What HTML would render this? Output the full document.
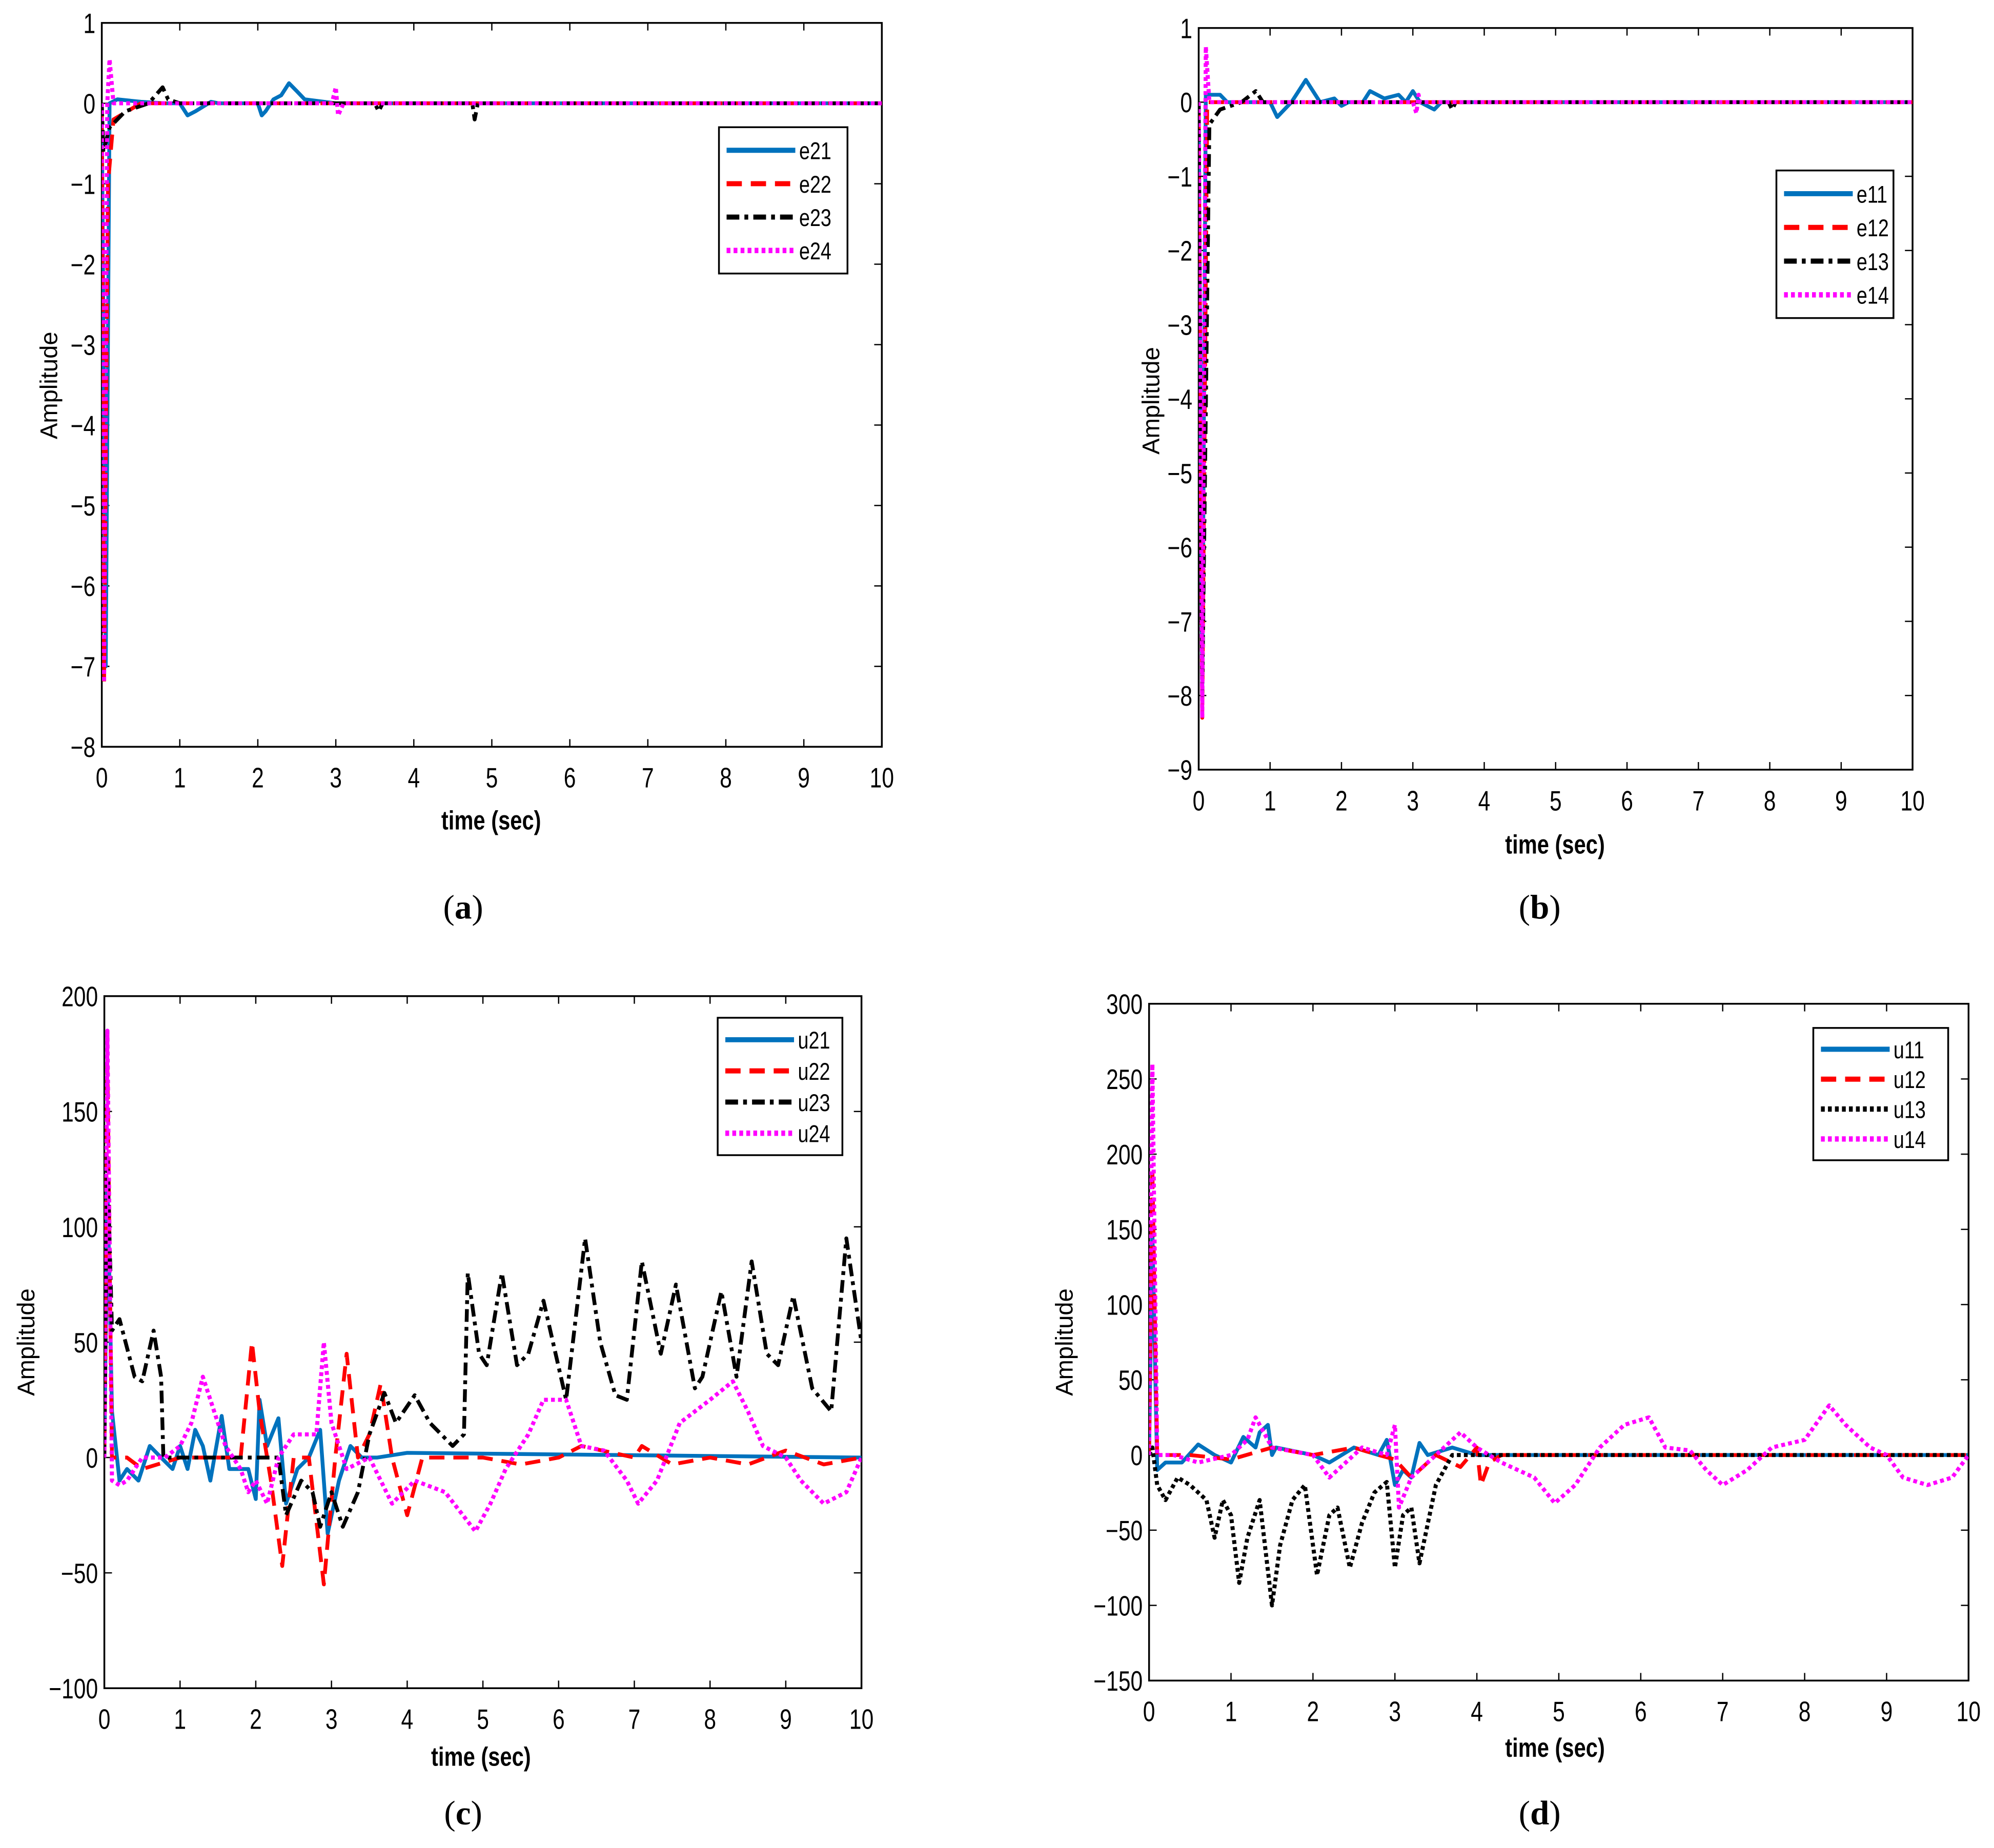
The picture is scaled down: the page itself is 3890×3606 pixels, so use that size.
<!DOCTYPE html>
<html><head><meta charset="utf-8"><style>
html,body{margin:0;padding:0;background:#fff}
svg{display:block}
text{font-family:"Liberation Sans",sans-serif;fill:#000}
text.cap{font-family:"Liberation Serif",serif}
</style></head><body>
<svg id="root" width="3890" height="3606" viewBox="0 0 1567 1452.6" preserveAspectRatio="none" xmlns="http://www.w3.org/2000/svg"></svg>
<script>
// ---- data (time, value) per series ----
const aE21t=[0,0.03,0.05,0.1,0.2,0.5,0.8,1,1.1,1.2,1.4,1.5,2,2.05,2.1,2.2,2.3,2.4,2.5,2.6,3,10];
const aE21v=[0,-4,-7,0,0.05,0.02,0,0,-0.15,-0.1,0.02,0,0,-0.15,-0.1,0.05,0.1,0.25,0.15,0.05,0,0];
const aE22t=[0,0.03,0.08,0.15,0.5,10];
const aE22v=[0,-7.2,-1,-0.2,0,0];
const aE23t=[0,0.02,0.1,0.3,0.6,0.78,0.85,1,3.5,3.55,3.6,4.75,4.78,4.82,10];
const aE23v=[0,-0.6,-0.3,-0.1,0,0.2,0.05,0,0,-0.1,0,0,-0.2,0,0];
const aE24t=[0,0.03,0.07,0.1,0.15,2.95,3,3.03,3.1,10];
const aE24v=[0,-7.2,0,0.55,0,0,0.2,-0.15,0,0];

const bE11t=[0,0.05,0.1,0.3,0.4,1,1.1,1.3,1.5,1.7,1.9,2,2.1,2.3,2.4,2.6,2.8,2.9,3,3.1,3.3,3.4,10];
const bE11v=[0,-8,0.1,0.1,0,0,-0.2,0,0.3,0,0.05,-0.05,0,0,0.15,0.05,0.1,0,0.15,0,-0.1,0,0];
const bE12t=[0,0.05,0.12,10];
const bE12v=[0,-8.3,0,0];
const bE13t=[0,0.05,0.15,0.3,0.6,0.8,0.9,3.5,3.55,3.6,10];
const bE13v=[0,-8,-0.3,-0.1,0,0.15,0,0,-0.1,0,0];
const bE14t=[0,0.05,0.1,0.15,3,3.05,3.08,3.1,10];
const bE14v=[0,-8.3,0.75,0,0,-0.15,0.1,0,0];

const cU21t=[0,0.04,0.1,0.2,0.3,0.45,0.6,0.75,0.9,1,1.1,1.2,1.3,1.4,1.55,1.65,1.9,2,2.05,2.15,2.3,2.4,2.55,2.7,2.85,2.95,3.1,3.25,3.4,3.6,4,10];
const cU21v=[0,120,20,-10,-5,-10,5,0,-5,5,-5,12,5,-10,18,-5,-5,-18,25,5,17,-20,-5,0,12,-33,-10,5,0,0,2,0];
const cU22t=[0,0.04,0.1,0.3,0.5,1,1.5,1.8,1.95,2.05,2.2,2.35,2.5,2.7,2.9,3.05,3.2,3.35,3.5,3.65,3.8,4,4.2,5,5.5,6,6.3,7,7.1,7.5,8,8.5,9,9.5,10];
const cU22v=[0,170,0,0,-5,0,0,0,50,20,-10,-47,0,0,-55,0,45,0,10,32,0,-25,0,0,-3,0,5,0,5,-3,0,-3,3,-3,0];
const cU23t=[0,0.04,0.1,0.2,0.4,0.5,0.65,0.75,0.78,1,2.3,2.4,2.6,2.75,2.85,3,3.15,3.35,3.5,3.7,3.85,4.1,4.3,4.6,4.75,4.8,4.95,5.05,5.25,5.45,5.6,5.8,6.1,6.35,6.55,6.75,6.9,7.1,7.35,7.55,7.8,7.9,8.15,8.35,8.55,8.75,8.9,9.1,9.35,9.6,9.8,10];
const cU23v=[0,130,55,60,35,33,55,35,0,0,0,-25,-10,-15,-30,-15,-30,-15,10,28,15,27,15,5,10,80,45,40,80,40,45,68,25,95,50,27,25,85,45,75,30,35,72,35,85,45,40,70,30,20,95,50];
const cU24t=[0,0.04,0.1,0.2,0.3,0.5,0.8,1,1.15,1.3,1.45,1.6,1.8,1.9,2,2.15,2.3,2.5,2.8,2.9,3,3.2,3.5,3.8,4.1,4.5,4.9,5.1,5.3,5.6,5.8,6.1,6.3,6.6,6.9,7.05,7.3,7.6,8,8.3,8.5,8.7,9,9.2,9.5,9.8,10];
const cU24v=[0,185,-10,-12,-10,0,0,5,15,35,20,5,-5,-15,-10,-20,0,10,10,50,15,-5,0,-20,-10,-15,-32,-20,-5,10,25,25,5,3,-10,-20,-10,15,25,33,20,5,0,-10,-20,-15,0];

const dU11t=[0,0.04,0.1,0.2,0.4,0.6,0.8,1,1.15,1.3,1.35,1.45,1.5,1.55,2,2.2,2.5,2.8,2.9,3,3.1,3.2,3.3,3.4,3.7,4,10];
const dU11v=[0,150,-10,-5,-5,7,0,-5,12,5,15,20,0,5,0,-5,5,0,10,-20,-10,-15,8,0,5,0,0];
const dU12t=[0,0.04,0.1,0.5,1,1.5,2,2.5,2.8,3,3.2,3.5,3.8,4,4.05,4.15,4.3,10];
const dU12v=[0,190,0,0,-3,5,0,5,0,-3,-15,0,-8,5,-20,-5,0,0];
const dU13t=[0,0.04,0.1,0.2,0.35,0.5,0.7,0.8,0.9,1,1.1,1.2,1.35,1.5,1.6,1.75,1.9,2.05,2.2,2.3,2.45,2.6,2.75,2.9,3,3.1,3.2,3.3,3.5,3.7,4,10];
const dU13v=[0,5,-20,-30,-15,-20,-30,-55,-30,-40,-85,-55,-30,-100,-60,-30,-20,-80,-40,-35,-75,-45,-25,-18,-75,-40,-35,-72,-20,0,0,0];
const dU14t=[0,0.04,0.1,0.3,0.6,1,1.2,1.3,1.5,2,2.2,2.6,2.9,3,3.05,3.2,3.5,3.8,4,4.3,4.7,4.95,5.2,5.5,5.8,6.1,6.3,6.6,6.8,7,7.3,7.6,8,8.3,8.5,8.8,9,9.2,9.5,9.8,10];
const dU14v=[0,260,0,0,-5,0,10,25,5,0,-15,5,0,20,-35,-15,0,15,5,-5,-15,-32,-20,5,20,25,5,3,-10,-20,-10,5,10,33,20,5,0,-15,-20,-15,0];

const xTicks=[0,1,2,3,4,5,6,7,8,9,10];
const aYTicks=[1,0,-1,-2,-3,-4,-5,-6,-7,-8];
const bYTicks=[1,0,-1,-2,-3,-4,-5,-6,-7,-8,-9];
const cYTicks=[200,150,100,50,0,-50,-100];
const dYTicks=[300,250,200,150,100,50,0,-50,-100,-150];

const NS="http://www.w3.org/2000/svg";
const root=document.getElementById('root');
function mk(tag,attrs,parent){const e=document.createElementNS(NS,tag);for(const k in attrs)e.setAttribute(k,attrs[k]);(parent||root).appendChild(e);return e;}
const STY={
 blue:{stroke:'#0072BD',dash:'',w:3},
 red:{stroke:'#FF0000',dash:'12,7',w:3},
 black:{stroke:'#000',dash:'10,4,3,4',w:3},
 blackdot:{stroke:'#000',dash:'3,2.5',w:3.2},
 mag:{stroke:'#FF00FF',dash:'3,2.5',w:3.2}
};
function panel(p){
 const g=mk('g',{});
 
 
 const X=t=>p.x0+(t-0)/10*(p.x1-p.x0);
 const Y=v=>p.yTop+(p.ymax-v)/(p.ymax-p.ymin)*(p.yBot-p.yTop);
 const box=mk('rect',{x:p.x0,y:p.yTop,width:p.x1-p.x0,height:p.yBot-p.yTop,fill:'none',stroke:'#000','stroke-width':1.4},g);
 
 
 xTicks.forEach(t=>{
  const x=X(t);
  mk('line',{x1:x,x2:x,y1:p.yBot,y2:p.yBot-6,stroke:'#000','stroke-width':1},g);
  mk('line',{x1:x,x2:x,y1:p.yTop,y2:p.yTop+6,stroke:'#000','stroke-width':1},g);
  const tx=mk('text',{x:x,y:p.yBot+32,'text-anchor':'middle','font-size':22,transform:`translate(${x},0) scale(0.78,1) translate(${-x},0)`},g);
  tx.textContent=t;
  
  
 });
 p.yTicks.forEach(v=>{
  const y=Y(v);
  mk('line',{x1:p.x0,x2:p.x0+6,y1:y,y2:y,stroke:'#000','stroke-width':1},g);
  mk('line',{x1:p.x1,x2:p.x1-6,y1:y,y2:y,stroke:'#000','stroke-width':1},g);
  const lx=p.x0-5;
  const ty=mk('text',{x:lx,y:y+8,'text-anchor':'end','font-size':22,transform:`translate(${lx},0) scale(0.78,1) translate(${-lx},0)`},g);
  ty.textContent=v<0?'\u2212'+(-v):v;
  
  
 });
 const xl=mk('text',{x:p.xlx,y:p.xly,'text-anchor':'middle','font-size':21,'font-weight':'bold',transform:`translate(${p.xlx},0) scale(0.8,1) translate(${-p.xlx},0)`},g);
 xl.textContent='time (sec)';
 
 
 const yl=mk('text',{x:0,y:0,'text-anchor':'middle','font-size':19,transform:`translate(${p.ylx},${p.yly}) rotate(-90)`},g);
 yl.textContent='Amplitude';
 
 
 const cap=mk('text',{x:p.capx,y:p.capy,'text-anchor':'middle','font-size':27,'class':'cap'},g);
 cap.innerHTML='(<tspan font-weight="bold">'+p.cap+'</tspan>)';
 
 
 const clip='clip'+p.cap;
 const cp=mk('clipPath',{id:clip},g);mk('rect',{x:p.x0,y:p.yTop-30,width:p.x1-p.x0,height:p.yBot-p.yTop+30},cp);
 p.series.forEach(s=>{
  const st=STY[s.sty];
  const d=s.t.map((t,i)=>(i?'L':'M')+X(t).toFixed(1)+','+Y(s.v[i]).toFixed(1)).join('');
  const pa=mk('path',{d:d,fill:'none',stroke:st.stroke,'stroke-width':st.w,'stroke-dasharray':st.dash,'stroke-linejoin':'round','clip-path':`url(#${clip})`},g);
  
  
 });
 const L=p.leg;
 const lg=mk('g',{},g);
 
 
 mk('rect',{x:L.x,y:L.y,width:L.w,height:L.h,fill:'#fff',stroke:'#000','stroke-width':1.4},lg);
 const step=(L.h-10)/4;
 p.series.forEach((s,i)=>{
  const st=STY[s.sty];
  const yy=L.y+5+step*(i+0.5);
  mk('line',{x1:L.x+6,x2:L.x+60,y1:yy,y2:yy,stroke:st.stroke,'stroke-width':st.w+1,'stroke-dasharray':st.dash},lg);
  const lt=mk('text',{x:L.x+63,y:yy+7,'font-size':19,transform:`translate(${L.x+63},0) scale(0.8,1) translate(${-(L.x+63)},0)`},lg);
  lt.textContent=s.label;
  
  
 });
}
panel({name:'chart-a',cap:'a',x0:80,x1:693,yTop:18,yBot:587,ymax:1,ymin:-8,yTicks:aYTicks,xlx:386,xly:652,ylx:45,yly:303,capx:364,capy:722,
 leg:{x:565,y:100,w:101,h:115},
 series:[{label:'e21',sty:'blue',t:aE21t,v:aE21v},{label:'e22',sty:'red',t:aE22t,v:aE22v},{label:'e23',sty:'black',t:aE23t,v:aE23v},{label:'e24',sty:'mag',t:aE24t,v:aE24v}]});
panel({name:'chart-b',cap:'b',x0:942,x1:1503,yTop:22,yBot:605,ymax:1,ymin:-9,yTicks:bYTicks,xlx:1222,xly:671,ylx:911,yly:315,capx:1210,capy:722,
 leg:{x:1396,y:134,w:92,h:116},
 series:[{label:'e11',sty:'blue',t:bE11t,v:bE11v},{label:'e12',sty:'red',t:bE12t,v:bE12v},{label:'e13',sty:'black',t:bE13t,v:bE13v},{label:'e14',sty:'mag',t:bE14t,v:bE14v}]});
panel({name:'chart-c',cap:'c',x0:82,x1:677,yTop:783,yBot:1327,ymax:200,ymin:-100,yTicks:cYTicks,xlx:378,xly:1388,ylx:27,yly:1055,capx:364,capy:1434,
 leg:{x:564,y:800,w:98,h:108},
 series:[{label:'u21',sty:'blue',t:cU21t,v:cU21v},{label:'u22',sty:'red',t:cU22t,v:cU22v},{label:'u23',sty:'black',t:cU23t,v:cU23v},{label:'u24',sty:'mag',t:cU24t,v:cU24v}]});
panel({name:'chart-d',cap:'d',x0:903,x1:1547,yTop:789,yBot:1321,ymax:300,ymin:-150,yTicks:dYTicks,xlx:1222,xly:1381,ylx:843,yly:1055,capx:1210,capy:1434,
 leg:{x:1425,y:808,w:106,h:104},
 series:[{label:'u11',sty:'blue',t:dU11t,v:dU11v},{label:'u12',sty:'red',t:dU12t,v:dU12v},{label:'u13',sty:'blackdot',t:dU13t,v:dU13v},{label:'u14',sty:'mag',t:dU14t,v:dU14v}]});
</script>
</body></html>
